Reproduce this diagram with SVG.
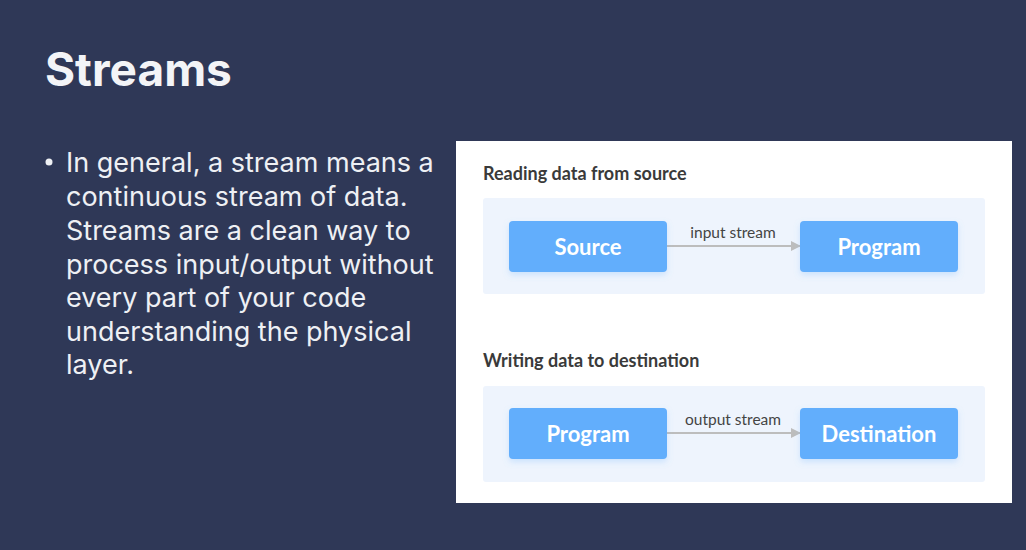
<svg xmlns="http://www.w3.org/2000/svg" width="1026" height="550" viewBox="0 0 1026 550">
<style>
.title{font-family:Inter,"Liberation Sans",sans-serif;font-weight:700;font-size:46px;fill:#f3f4f7}
.body{font-family:Inter,"Liberation Sans",sans-serif;font-size:27px;fill:#eef0f4}
.head{font-family:Lato,"Liberation Sans",sans-serif;font-weight:700;font-size:18px;fill:#3a3a3a}
.band{fill:#eef4fd}
.box{fill:#62aefc}
.btxt{font-family:Lato,"Liberation Sans",sans-serif;font-weight:700;font-size:22px;fill:#ffffff;text-anchor:middle}
.lbl{font-family:Lato,"Liberation Sans",sans-serif;font-size:15.5px;fill:#444;text-anchor:middle}
.edge{stroke:#bdbdbd;stroke-width:2;fill:none}
</style>
<defs>
<marker id="arr" markerWidth="10" markerHeight="10" refX="9" refY="5" orient="auto" markerUnits="userSpaceOnUse">
<path d="M0,0 L10,5 L0,10 Z" fill="#bdbdbd"/>
</marker>
<filter id="sh" x="-10%" y="-20%" width="120%" height="160%">
<feDropShadow dx="0" dy="3" stdDeviation="3" flood-color="#62aefc" flood-opacity="0.25"/>
</filter>
</defs>
<rect width="1026" height="550" fill="#2f3857"/>
<text class="title" x="45" y="86">Streams</text>
<circle cx="49" cy="162" r="3.5" fill="#eef0f4"/>
<text class="body">
<tspan x="66" y="172">In general, a stream means a</tspan>
<tspan x="66" y="206">continuous stream of data.</tspan>
<tspan x="66" y="240">Streams are a clean way to</tspan>
<tspan x="66" y="274">process input/output without</tspan>
<tspan x="66" y="307">every part of your code</tspan>
<tspan x="66" y="341">understanding the physical</tspan>
<tspan x="66" y="374">layer.</tspan>
</text>
<rect x="456" y="141" width="556" height="362" fill="#ffffff"/>
<text class="head" x="483" y="180">Reading data from source</text>
<text class="head" x="483" y="367">Writing data to destination</text>
<rect class="band" x="483" y="198" width="502" height="96" rx="3"/>
<rect class="band" x="483" y="386" width="502" height="96" rx="3"/>
<g id="connectors">
<line class="edge" x1="667" y1="246" x2="800" y2="246" marker-end="url(#arr)"/>
<text class="lbl" x="733" y="238">input stream</text>
<line class="edge" x1="667" y1="433" x2="800" y2="433" marker-end="url(#arr)"/>
<text class="lbl" x="733" y="425">output stream</text>
</g>
<g id="source">
<rect class="box" x="509" y="221" width="158" height="51" rx="4" filter="url(#sh)"/>
<text class="btxt" x="588" y="255">Source</text>
</g>
<g id="program1">
<rect class="box" x="800" y="221" width="158" height="51" rx="4" filter="url(#sh)"/>
<text class="btxt" x="879" y="255">Program</text>
</g>
<g id="program2">
<rect class="box" x="509" y="408" width="158" height="51" rx="4" filter="url(#sh)"/>
<text class="btxt" x="588" y="442">Program</text>
</g>
<g id="destination">
<rect class="box" x="800" y="408" width="158" height="51" rx="4" filter="url(#sh)"/>
<text class="btxt" x="879" y="442">Destination</text>
</g>
</svg>
